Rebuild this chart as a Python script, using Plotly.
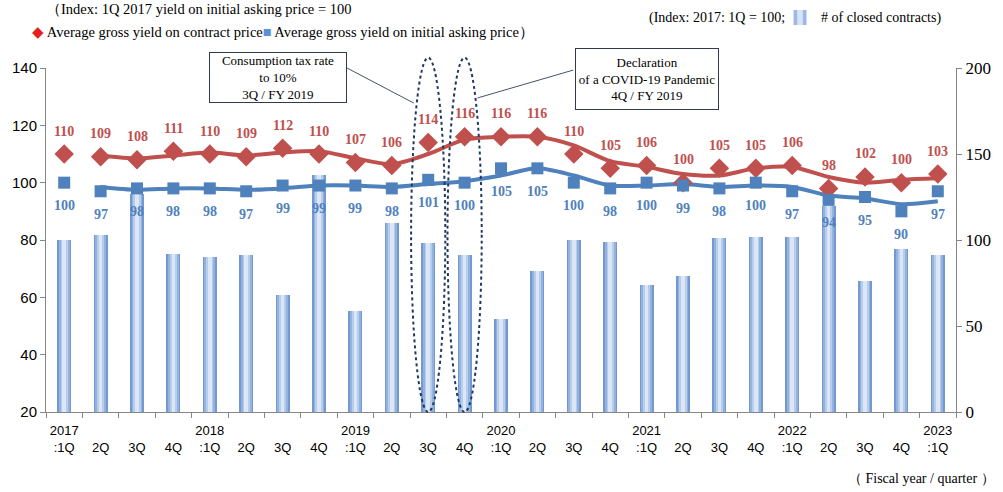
import plotly.graph_objects as go

# ---------------- data ----------------
tick_labels = ["2017<br>:1Q", " <br>2Q", " <br>3Q", " <br>4Q",
               "2018<br>:1Q", " <br>2Q", " <br>3Q", " <br>4Q",
               "2019<br>:1Q", " <br>2Q", " <br>3Q", " <br>4Q",
               "2020<br>:1Q", " <br>2Q", " <br>3Q", " <br>4Q",
               "2021<br>:1Q", " <br>2Q", " <br>3Q", " <br>4Q",
               "2022<br>:1Q", " <br>2Q", " <br>3Q", " <br>4Q",
               "2023<br>:1Q"]

contract_yield = [110, 109, 108, 111, 110, 109, 112, 110, 107, 106, 114, 116, 116,
                  116, 110, 105, 106, 100, 105, 105, 106, 98, 102, 100, 103]
asking_yield = [100, 97, 98, 98, 98, 97, 99, 99, 99, 98, 101, 100, 105,
                105, 100, 98, 100, 99, 98, 100, 97, 94, 95, 90, 97]
closed_contracts = [100, 103, 127, 92, 90, 91, 68, 138, 59, 110, 98, 91, 54,
                    82, 100, 99, 74, 79, 101, 102, 102, 120, 76, 95, 91]

tax_idx = 10     # 3Q / FY 2019
covid_idx = 11   # 4Q / FY 2019

# ---------------- derived ----------------
x = list(range(len(tick_labels)))
x_ma = x[1:]
contract_ma = [(contract_yield[i - 1] + contract_yield[i]) / 2 for i in x_ma]
asking_ma = [(asking_yield[i - 1] + asking_yield[i]) / 2 for i in x_ma]

RED = "#C0504D"
BLUE = "#4F81BD"
AXIS = "#868686"
SERIF = "Liberation Serif"
SANS = "Liberation Sans"

fig = go.Figure()

# bars (gradient imitation with overlaid bars)
for w, c in [(0.38, "#7399D1"), (0.30, "#93B2E0"), (0.20, "#B8CDEC"), (0.10, "#DCE7F6")]:
    fig.add_trace(go.Bar(x=x, y=closed_contracts, width=w, marker_color=c,
                         marker_line_width=0, yaxis="y", showlegend=False,
                         hoverinfo="skip"))

# moving-average lines
fig.add_trace(go.Scatter(x=x_ma, y=contract_ma, mode="lines", yaxis="y2",
                         line=dict(color=RED, width=4, shape="spline", smoothing=0.8),
                         showlegend=False))
fig.add_trace(go.Scatter(x=x_ma, y=asking_ma, mode="lines", yaxis="y2",
                         line=dict(color=BLUE, width=4, shape="spline", smoothing=0.8),
                         showlegend=False))
# markers
fig.add_trace(go.Scatter(x=x, y=contract_yield, mode="markers", yaxis="y2",
                         marker=dict(symbol="diamond", size=15, color=RED),
                         showlegend=False))
fig.add_trace(go.Scatter(x=x, y=asking_yield, mode="markers", yaxis="y2",
                         marker=dict(symbol="square", size=12, color=BLUE),
                         showlegend=False))

annotations = []
for i in x:
    annotations.append(dict(x=i, y=contract_yield[i], xref="x", yref="y2",
                            text=f"<b>{contract_yield[i]}</b>", showarrow=False,
                            yshift=23, font=dict(family=SERIF, size=14, color=RED)))
    annotations.append(dict(x=i, y=asking_yield[i], xref="x", yref="y2",
                            text=f"<b>{asking_yield[i]}</b>", showarrow=False,
                            yshift=-23, font=dict(family=SERIF, size=14, color=BLUE)))

# header texts
annotations.append(dict(xref="paper", yref="paper", x=-0.0025, y=1.1715,
                        xanchor="left", yanchor="middle", showarrow=False,
                        text="（Index: 1Q 2017 yield on initial asking price = 100",
                        font=dict(family=SERIF, size=14.5, color="#000")))
annotations.append(dict(xref="paper", yref="paper", x=-0.018, y=1.1047,
                        xanchor="left", yanchor="middle", showarrow=False,
                        text="<span style='color:#E3201B'>◆</span> Average gross yield on contract price"
                             "<span style='color:#5B8FD6'>■</span> Average gross yield on initial asking price）",
                        font=dict(family=SERIF, size=14.5, color="#000")))
annotations.append(dict(xref="paper", yref="paper", x=0.8145, y=1.145,
                        xanchor="right", yanchor="middle", showarrow=False,
                        text="(Index: 2017: 1Q = 100;",
                        font=dict(family=SERIF, size=14, color="#000")))
annotations.append(dict(xref="paper", yref="paper", x=0.8497, y=1.145,
                        xanchor="left", yanchor="middle", showarrow=False,
                        text="# of closed contracts)",
                        font=dict(family=SERIF, size=14, color="#000")))
annotations.append(dict(xref="paper", yref="paper", x=1.045, y=-0.192,
                        xanchor="right", yanchor="middle", showarrow=False,
                        text="（ Fiscal year / quarter ）",
                        font=dict(family=SERIF, size=14, color="#000")))

# callout boxes
annotations.append(dict(xref="paper", yref="paper", x=0.2547, y=0.972,
                        xanchor="center", yanchor="middle", showarrow=False,
                        text="Consumption tax rate<br>to 10%<br>3Q / FY 2019",
                        font=dict(family=SERIF, size=13, color="#000"),
                        bgcolor="white", bordercolor="#2F3B4C", borderwidth=1,
                        width=136, borderpad=0))
annotations.append(dict(xref="paper", yref="paper", x=0.6605, y=0.968,
                        xanchor="center", yanchor="middle", showarrow=False,
                        text="Declaration<br>of a COVID-19 Pandemic<br>4Q / FY 2019",
                        font=dict(family=SERIF, size=13, color="#000"),
                        bgcolor="white", bordercolor="#2F3B4C", borderwidth=1,
                        width=140, height=58, borderpad=1))

shapes = []
for idx in (tax_idx, covid_idx):
    shapes.append(dict(type="circle", xref="x", yref="paper",
                       x0=idx - 0.47, x1=idx + 0.47, y0=0, y1=1.03,
                       line=dict(color="#1F3864", width=2, dash="dot")))
shapes.append(dict(type="line", xref="paper", yref="paper",
                   x0=0.3308, y0=1.0, x1=0.4042, y1=0.898,
                   line=dict(color="#44546A", width=1)))
shapes.append(dict(type="line", xref="paper", yref="paper",
                   x0=0.5794, y0=0.994, x1=0.4743, y1=0.913,
                   line=dict(color="#44546A", width=1)))
# legend swatch for bars
shapes.append(dict(type="rect", xref="paper", yref="paper",
                   x0=0.8215, x1=0.8357, y0=1.125, y1=1.1686,
                   fillcolor="#9DB9E3", line=dict(width=0)))
shapes.append(dict(type="rect", xref="paper", yref="paper",
                   x0=0.8255, x1=0.8317, y0=1.125, y1=1.1686,
                   fillcolor="#D8E4F5", line=dict(width=0)))

fig.update_layout(
    width=1003, height=492,
    margin=dict(l=44, r=46, t=68, b=80),
    paper_bgcolor="white", plot_bgcolor="white",
    barmode="overlay", bargap=0,
    showlegend=False,
    xaxis=dict(range=[-0.5, len(x) - 0.5], tickmode="array", tickvals=x,
               ticktext=tick_labels, ticks="", showline=True, linecolor=AXIS,
               linewidth=1, showgrid=False, zeroline=False, ticklabelstandoff=6,
               tickfont=dict(family=SANS, size=13, color="#000"),
               minor=dict(tickmode="linear", tick0=-0.5, dtick=1, ticks="outside",
                          ticklen=5, tickcolor=AXIS, showgrid=False)),
    yaxis=dict(range=[0, 200], dtick=50, side="right", showgrid=False,
               zeroline=False, showline=True, linecolor=AXIS, ticks="outside",
               ticklen=5, tickcolor=AXIS,
               tickfont=dict(family=SERIF, size=17, color="#000")),
    yaxis2=dict(range=[20, 140], dtick=20, side="left", overlaying="y",
                showgrid=False, zeroline=False, showline=True, linecolor=AXIS,
                ticks="outside", ticklen=5, tickcolor=AXIS,
                tickfont=dict(family=SANS, size=15, color="#000")),
    annotations=annotations,
    shapes=shapes,
)

fig.write_html("out.html", config={"displayModeBar": False},
               post_script="document.body.style.margin='0';document.body.style.padding='0';")
